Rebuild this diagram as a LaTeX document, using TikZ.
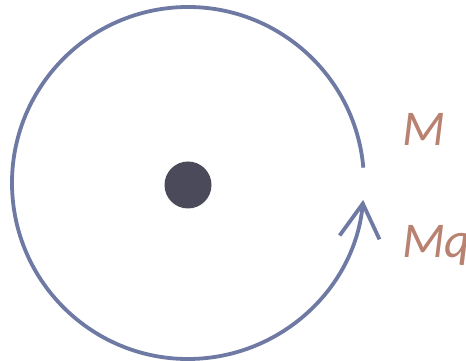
\documentclass[tikz,border=0pt]{standalone}
\usepackage{fontspec}
\setsansfont{Carlito}
\usetikzlibrary{arrows.meta,positioning,calc}
\definecolor{orbit}{RGB}{110,122,164}
\definecolor{core}{RGB}{74,74,90}
\definecolor{labelc}{RGB}{185,130,112}
\tikzset{
    % orbit path
    orbitline/.style={
        draw=orbit,
        line width=3.8pt,
        -{Straight Barb[length=34pt,width=40pt,line width=3.8pt]}
    },
    corenode/.style={
        circle,
        fill=core,
        minimum size=47pt,
        inner sep=0pt
    },
    momentlabel/.style={
        font=\sffamily\itshape\fontsize{50}{50}\selectfont,
        text=labelc,
        anchor=base west,
        inner sep=0pt
    }
}
\begin{document}
\begin{tikzpicture}[x=1pt,y=1pt]
    \useasboundingbox (0,0) rectangle (466,361);

    % Centre
    \node[corenode] (core) at (188,176) {};

    % Orbit
    \coordinate (start) at ($(188,178)+(5:176)$);
    \draw[orbitline] (start) arc[start angle=5, end angle=354.5, radius=176];

    % Labels
    \node[momentlabel] (mlabel) at (402,215) {M};
    \node[momentlabel] (mqlabel) at (402,103) {Mq};
\end{tikzpicture}
\end{document}
